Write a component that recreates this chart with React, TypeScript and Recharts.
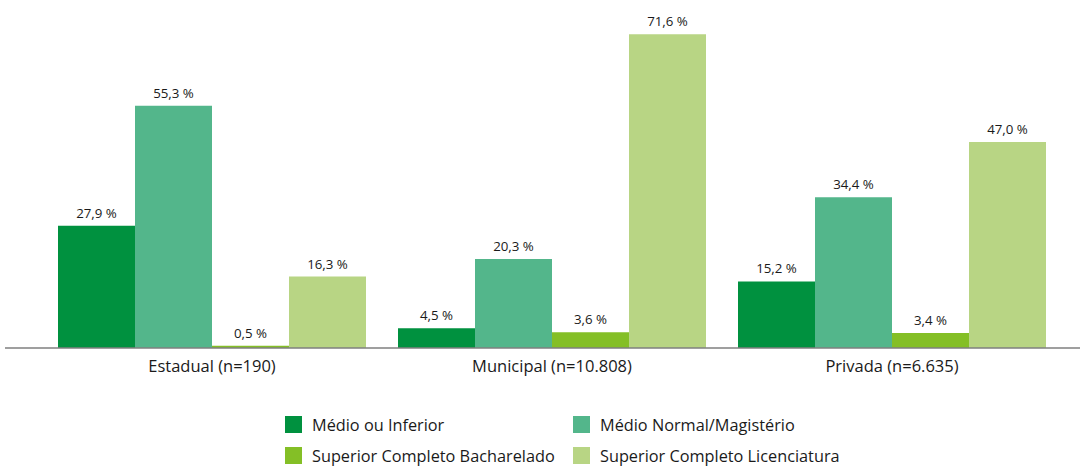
import { BarChart, Bar, XAxis, YAxis, Legend, LabelList } from "recharts"

const categories = ["Estadual (n=190)", "Municipal (n=10.808)", "Privada (n=6.635)"]
const medioInferior = [27.9, 4.5, 15.2]
const medioNormal = [55.3, 20.3, 34.4]
const supBacharelado = [0.5, 3.6, 3.4]
const supLicenciatura = [16.3, 71.6, 47.0]

const SERIES = [
  { key: "mi", name: "Médio ou Inferior", color: "#00913f", values: medioInferior },
  { key: "mn", name: "Médio Normal/Magistério", color: "#53b68b", values: medioNormal },
  { key: "sb", name: "Superior Completo Bacharelado", color: "#84bf26", values: supBacharelado },
  { key: "sl", name: "Superior Completo Licenciatura", color: "#b8d584", values: supLicenciatura },
]

const data = categories.map((c, i) => {
  const row: Record<string, string | number> = { name: c }
  SERIES.forEach((s) => (row[s.key] = s.values[i]))
  return row
})

const FONT = "'Open Sans', Lato, sans-serif"

const fmt = (v: any) => Number(v).toFixed(1).replace(".", ",") + " %"

function LegendBox() {
  // 2x2 grid like the original
  const pos = [
    { left: 280, top: 29 },
    { left: 568, top: 29 },
    { left: 280, top: 60 },
    { left: 568, top: 60 },
  ]
  return (
    <div style={{ position: "relative", width: 1084, height: 80, fontFamily: FONT }}>
      {SERIES.map((s, i) => (
        <div
          key={s.key}
          style={{
            position: "absolute",
            left: pos[i].left,
            top: pos[i].top,
            height: 17,
            display: "flex",
            alignItems: "center",
            fontSize: 16.3,
            color: "#1a1a1a",
            whiteSpace: "nowrap",
          }}
        >
          <span style={{ width: 17, height: 17, background: s.color, display: "inline-block", marginRight: 10, flexShrink: 0 }} />
          {s.name}
        </div>
      ))}
    </div>
  )
}

export default function App() {
  return (
    <div style={{ position: "absolute", left: 0, top: 0, fontFamily: FONT }}>
      <BarChart
        width={1084}
        height={467}
        data={data}
        margin={{ top: 0, right: 4, left: 5, bottom: 0 }}
        barCategoryGap={16}
        barGap={0}
      >
        <XAxis
          dataKey="name"
          axisLine={{ stroke: "#7f7f7f", strokeWidth: 1.5 }}
          tickLine={false}
          tickMargin={6}
          height={39}
          padding={{ left: 37, right: 18 }}
          tick={{ fontSize: 16.5, fill: "#1a1a1a", fontFamily: FONT }}
        />
        <YAxis hide domain={[0, 79.4]} />
        <Legend verticalAlign="bottom" height={80} content={() => <LegendBox />} />
        {SERIES.map((s) => (
          <Bar key={s.key} dataKey={s.key} name={s.name} fill={s.color} isAnimationActive={false}>
            <LabelList
              dataKey={s.key}
              position="top"
              offset={8}
              formatter={fmt}
              style={{ fontSize: 13.3, fill: "#1a1a1a", fontFamily: FONT }}
            />
          </Bar>
        ))}
      </BarChart>
    </div>
  )
}
